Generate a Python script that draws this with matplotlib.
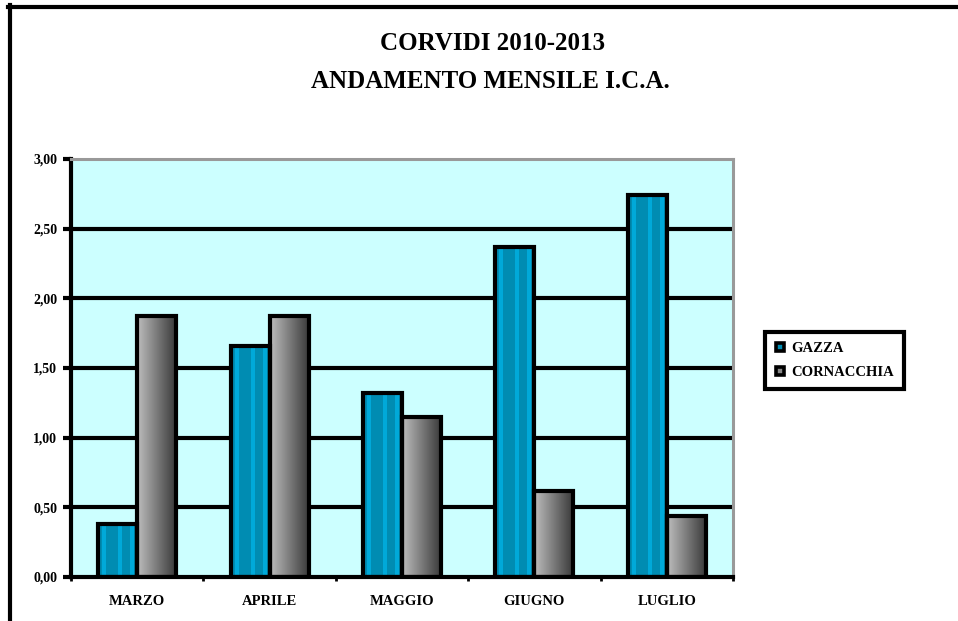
import numpy as np
import matplotlib
matplotlib.use("Agg")
import matplotlib.pyplot as plt
from matplotlib.lines import Line2D

# indice chilometrico di abbondanza medio per mese
mesi = ["MARZO", "APRILE", "MAGGIO", "GIUGNO", "LUGLIO"]
gazza = [0.38, 1.66, 1.32, 2.37, 2.74]
cornacchia = [1.87, 1.87, 1.15, 0.62, 0.44]
serie = ["GAZZA", "CORNACCHIA"]
yticks = [0.0, 0.5, 1.0, 1.5, 2.0, 2.5, 3.0]

FONT = "Liberation Serif"
TEAL = "#008cb2"
TEAL_LIGHT = "#00a9d9"
BG = "#ccffff"

fig = plt.figure(figsize=(9.58, 6.21), dpi=100)

# cornice della pagina (solo lato sinistro e alto)
fig.add_artist(Line2D([10 / 958, 10 / 958], [0, 1 - 5 / 621], color="black", lw=3, transform=fig.transFigure))
fig.add_artist(Line2D([8 / 958, 1], [1 - 7 / 621, 1 - 7 / 621], color="black", lw=3, transform=fig.transFigure))

fig.text(492 / 958, 1 - 44 / 621, "CORVIDI 2010-2013", ha="center", va="center",
         family=FONT, fontweight="bold", fontsize=18)
fig.text(490 / 958, 1 - 81 / 621, "ANDAMENTO MENSILE I.C.A.", ha="center", va="center",
         family=FONT, fontweight="bold", fontsize=18)

ax = fig.add_axes([71 / 958, 44 / 621, 662 / 958, 418 / 621])
ax.set_facecolor(BG)

x = np.arange(len(mesi))
w = 0.295

# griglia orizzontale
for v in yticks[1:-1]:
    ax.axhline(v, color="black", lw=3, zorder=1)

# riempimento a strisce per la gazza e sfumato per la cornacchia
strisce = np.array([0, 1, 0, 0, 0, 1, 0, 0, 1, 0])
strisce_rgb = np.array([matplotlib.colors.to_rgb(TEAL_LIGHT) if s else matplotlib.colors.to_rgb(TEAL) for s in strisce])
strisce_rgb = strisce_rgb[np.newaxis, :, :]
sfumato = np.linspace(0.74, 0.22, 40)
sfumato_rgb = np.repeat(sfumato[np.newaxis, :, np.newaxis], 3, axis=2)

bars_g = ax.bar(x - w / 2, gazza, w, color=TEAL, zorder=2)
bars_c = ax.bar(x + w / 2, cornacchia, w, color="#888888", zorder=2)

for bars, img in [(bars_g, strisce_rgb), (bars_c, sfumato_rgb)]:
    for b in bars:
        x0, y0 = b.get_x(), b.get_y()
        im = ax.imshow(img, extent=(x0, x0 + b.get_width(), y0, y0 + b.get_height()),
                       aspect="auto", interpolation="nearest", zorder=2.1)
        im.set_clip_path(b)

ax.bar(x - w / 2, gazza, w, fill=False, edgecolor="black", lw=3, zorder=3)
ax.bar(x + w / 2, cornacchia, w, fill=False, edgecolor="black", lw=3, zorder=3)

ax.set_xlim(-0.5, len(mesi) - 0.5)
ax.set_ylim(0, 3)

for s in ["top", "right"]:
    ax.spines[s].set_color("#999999")
    ax.spines[s].set_linewidth(2.2)
for s in ["left", "bottom"]:
    ax.spines[s].set_color("black")
    ax.spines[s].set_linewidth(3)
for s in ax.spines.values():
    s.set_zorder(4)

ax.set_yticks(yticks)
ax.set_yticklabels([f"{v:.2f}".replace(".", ",") for v in yticks], family=FONT, fontweight="bold", fontsize=10)
ax.tick_params(axis="y", direction="out", length=6, width=3, pad=4)

ax.set_xticks(x)
ax.set_xticklabels(mesi, family=FONT, fontweight="bold", fontsize=10.5)
ax.set_xticks(np.arange(-0.5, len(mesi)), minor=True)
ax.tick_params(axis="x", which="major", length=0, pad=13)
ax.tick_params(axis="x", which="minor", direction="out", length=3, width=2)

handles = [
    Line2D([], [], ls="none", marker="s", ms=5.5, mew=2.6, mfc=TEAL, mec="black"),
    Line2D([], [], ls="none", marker="s", ms=5.5, mew=2.6, mfc="#888888", mec="black"),
]
leg = fig.legend(handles, serie, loc="upper left", bbox_to_anchor=(765 / 958, 1 - 332 / 621),
                 borderaxespad=0, prop={"family": FONT, "weight": "bold", "size": 10.5},
                 fancybox=False, framealpha=1, edgecolor="black",
                 handlelength=0.7, handletextpad=0.4, borderpad=0.7, labelspacing=0.7)
leg.get_frame().set_linewidth(3)

fig.savefig("out.png", dpi=100)
